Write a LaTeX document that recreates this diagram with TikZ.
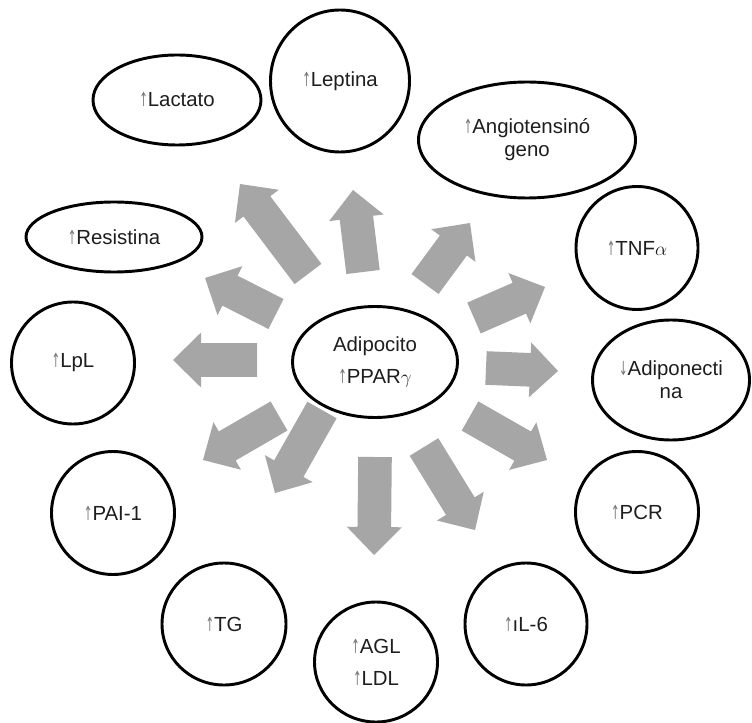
\documentclass[tikz,border=0pt]{standalone}
\usepackage{fontspec}
\usepackage{graphicx}
\setmainfont{Liberation Sans}
\newfontfamily\arrfont{DejaVu Sans}
\usetikzlibrary{calc,shapes.geometric}
\definecolor{arrowgray}{RGB}{166,166,166}
\definecolor{txtcol}{RGB}{30,30,30}
\definecolor{upgray}{RGB}{120,120,120}
\newcommand{\upar}{{\color{upgray}\scalebox{0.5}[0.95]{\arrfont ↑}}}
\newcommand{\dnar}{{\color{upgray}\scalebox{0.5}[0.95]{\arrfont ↓}}}
% block arrow from tail coordinate #1 to tip coordinate #2
\newcommand{\blockarrow}[2]{%
  \coordinate (hb) at ($(#2)!21pt!(#1)$);
  \fill[arrowgray]
    ($(#1)!12.6pt!90:(#2)$) -- ($(hb)!12.6pt!90:(#2)$) -- ($(hb)!20.6pt!90:(#2)$)
    -- (#2)
    -- ($(hb)!20.6pt!-90:(#2)$) -- ($(hb)!12.6pt!-90:(#2)$) -- ($(#1)!12.6pt!-90:(#2)$)
    -- cycle;}
\tikzset{
  bub/.style={draw=black, line width=2.2pt, ellipse, inner sep=0pt, align=center,
    text=txtcol, font=\fontsize{15.3}{17.3}\selectfont},
  bubwide/.style={bub, font=\fontsize{15.3}{24}\selectfont}
}
\begin{document}
\begin{tikzpicture}[x=0.75pt,y=-0.75pt]
\useasboundingbox (0,0) rectangle (752,723);
\fill[white] (0,0) rectangle (752,723);

% grey block arrows
\coordinate (t1) at (308,274);  \coordinate (h1) at (240,184);
\coordinate (t2) at (363,272);  \coordinate (h2) at (353,190);
\coordinate (t3) at (425,284);  \coordinate (h3) at (470,223);
\coordinate (t4) at (474,318);  \coordinate (h4) at (545,287);
\coordinate (t5) at (486,368);  \coordinate (h5) at (558,371);
\coordinate (t6) at (470,416);  \coordinate (h6) at (547,460);
\coordinate (t7) at (424,447);  \coordinate (h7) at (475,530);
\coordinate (t8) at (375,457);  \coordinate (h8) at (374,555);
\coordinate (t9) at (322,410);  \coordinate (h9) at (275,493);
\coordinate (t10) at (279,416); \coordinate (h10) at (203,460);
\coordinate (t11) at (257,360); \coordinate (h11) at (173,360);
\coordinate (t12) at (276,314); \coordinate (h12) at (205,278);
\foreach \i in {1,...,12}{\blockarrow{t\i}{h\i}}

% bubbles
\node[bubwide, minimum width=123.75pt, minimum height=83.25pt] (cen) at (375,362) {Adipocito\\\upar PPAR$\gamma$};
\node[bub, minimum width=126pt, minimum height=67.5pt] (lac) at (177,100) {\upar Lactato};
\node[bub, minimum width=104.25pt, minimum height=106.5pt] (lep) at (340,81) {\upar Leptina};
\node[bub, minimum width=162.75pt, minimum height=87pt] (ang) at (527,140) {\upar Angiotensinó\\geno};
\node[bub, minimum width=91.5pt, minimum height=92.25pt] (tnf) at (637,248) {\upar TNF$\alpha$};
\node[bub, minimum width=117.75pt, minimum height=90pt] (adi) at (671,380) {\dnar Adiponecti\\na};
\node[bub, minimum width=92.25pt, minimum height=90.75pt] (pcr) at (637,512) {\upar PCR};
\node[bub, minimum width=91.5pt, minimum height=91.5pt] (il6) at (526,624) {\upar ıL-6};
\node[bubwide, minimum width=92.25pt, minimum height=90pt] (agl) at (376,662) {\upar AGL\\\upar LDL};
\node[bub, minimum width=93pt, minimum height=91.5pt] (tg) at (224,624) {\upar TG};
\node[bub, minimum width=92.25pt, minimum height=92.25pt] (pai) at (113,513) {\upar PAI-1};
\node[bub, minimum width=92.25pt, minimum height=91.5pt] (lpl) at (73,363) {\upar LpL};
\node[bub, minimum width=132pt, minimum height=52.5pt] (res) at (114,237) {\upar Resistina};
\end{tikzpicture}
\end{document}
